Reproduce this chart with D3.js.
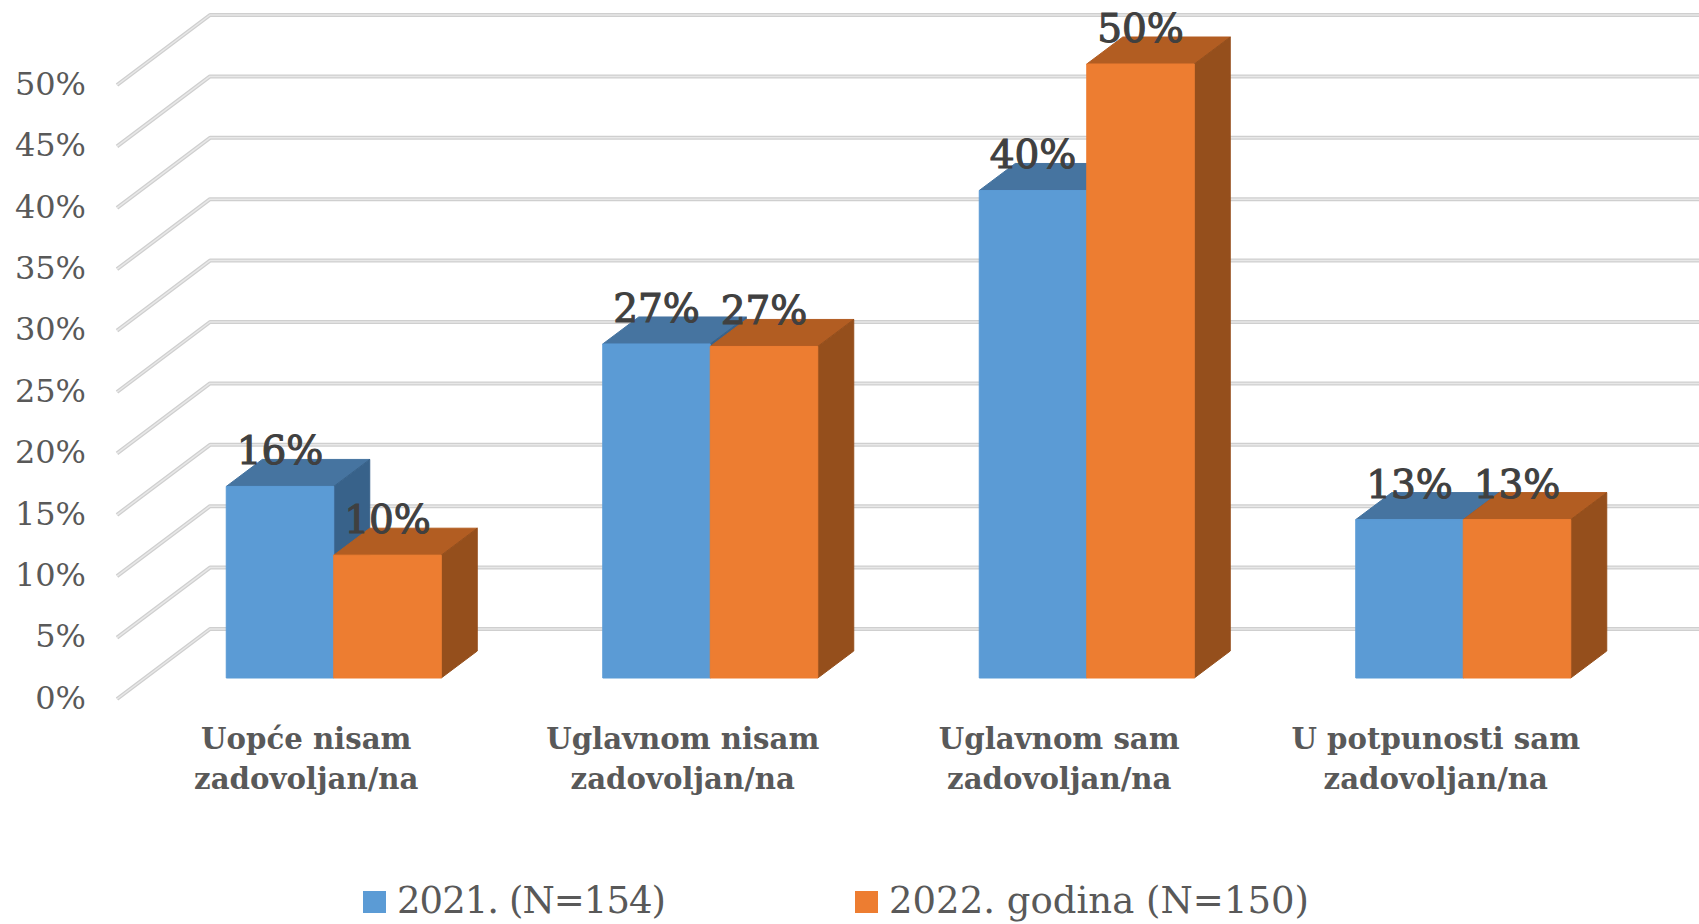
<!DOCTYPE html>
<html>
<head>
<meta charset="utf-8">
<script src="https://cdn.jsdelivr.net/npm/d3@7"></script>
<style>
html, body { margin: 0; padding: 0; background: #fff; overflow: hidden; }
svg { display: block; font-family: "DejaVu Serif", serif; }
</style>
</head>
<body>
<script>
var width = 1699
var height = 924

var categories = ["Uopće nisam zadovoljan/na", "Uglavnom nisam zadovoljan/na", "Uglavnom sam zadovoljan/na", "U potpunosti sam zadovoljan/na"]
var categoryLines = [["Uopće nisam", "zadovoljan/na"], ["Uglavnom nisam", "zadovoljan/na"], ["Uglavnom sam", "zadovoljan/na"], ["U potpunosti sam", "zadovoljan/na"]]
var seriesNames = ["2021. (N=154)", "2022. godina (N=150)"]
var values2021 = [15.6, 27.2, 39.7, 12.9]
var values2022 = [10, 27, 50, 12.9]
var labels2021 = ["16%", "27%", "40%", "13%"]
var labels2022 = ["10%", "27%", "50%", "13%"]
var yTicks = [0, 5, 10, 15, 20, 25, 30, 35, 40, 45, 50]

var series = [
  { name: seriesNames[0], values: values2021, labels: labels2021, front: "#5b9bd5", top: "#4674a0", side: "#38628a" },
  { name: seriesNames[1], values: values2022, labels: labels2022, front: "#ed7d31", top: "#b25d22", side: "#954f1c" }
]

// the fake 3d box: floor runs from the front edge back to the wall
var wallDx = 93, wallDy = -70
var barPlaneDy = -21, barDx = 36, barDy = -27, barShift = 28.5, groupWidth = 215

var x = d3.scaleBand().domain(categories).range([117, 1623])
var xSeries = d3.scaleBand().domain(seriesNames).range([0, groupWidth])
var y = d3.scaleLinear().domain([0, 50]).range([699, 85])

var svg = d3.select("body").append("svg")
  .attr("width", width)
  .attr("height", height)

// gridlines, wall and side wall
var grid = svg.append("g").attr("fill", "none").attr("stroke-linejoin", "round")
function gridPath(v) {
  return "M" + x.range()[0] + "," + y(v) +
    "L" + (x.range()[0] + wallDx) + "," + (y(v) + wallDy) +
    "L" + (x.range()[1] + wallDx) + "," + (y(v) + wallDy)
}
grid.selectAll(".under").data(yTicks).enter().append("path")
  .attr("d", gridPath).attr("stroke", "#cfcfcf").attr("stroke-width", 4)
grid.selectAll(".over").data(yTicks).enter().append("path")
  .attr("d", gridPath).attr("stroke", "#e8e8e8").attr("stroke-width", 1.5)

// y tick labels
var yAxis = svg.append("g")
  .attr("transform", "translate(86,-1)")
  .call(d3.axisLeft(y).tickValues(yTicks).tickSize(0).tickPadding(0).tickFormat(function(d) { return d + "%" }))
yAxis.select(".domain").remove()
yAxis.selectAll("text")
  .attr("fill", "#595959")
  .style("font-family", "'DejaVu Serif', serif")
  .style("font-size", "32px")

// bars
function barLeft(c, s) { return x(c) + x.bandwidth() / 2 + barShift - groupWidth / 2 + xSeries(s.name) }

series.forEach(function(s) {
  var g = svg.append("g").attr("stroke-width", 1).attr("stroke-linejoin", "round")
  categories.forEach(function(c, i) {
    var x0 = barLeft(c, s)
    var x1 = x0 + xSeries.bandwidth()
    var y0 = y(0) + barPlaneDy
    var y1 = y(s.values[i]) + barPlaneDy
    g.append("polygon")
      .attr("points", [[x0, y1], [x1, y1], [x1 + barDx, y1 + barDy], [x0 + barDx, y1 + barDy]].join(" "))
      .attr("fill", s.top).attr("stroke", s.top)
    g.append("polygon")
      .attr("points", [[x1, y0], [x1, y1], [x1 + barDx, y1 + barDy], [x1 + barDx, y0 + barDy]].join(" "))
      .attr("fill", s.side).attr("stroke", s.side)
    g.append("rect")
      .attr("x", x0).attr("y", y1)
      .attr("width", xSeries.bandwidth()).attr("height", y0 - y1)
      .attr("fill", s.front).attr("stroke", s.front)
  })
})

// value labels sit above everything
series.forEach(function(s) {
  svg.append("g").selectAll("text").data(categories).enter().append("text")
    .attr("x", function(c) { return barLeft(c, s) + xSeries.bandwidth() / 2 })
    .attr("y", function(c, i) { return y(s.values[i]) + barPlaneDy - 22 })
    .attr("text-anchor", "middle")
    .attr("fill", "#404040")
    .attr("stroke", "#404040")
    .attr("stroke-width", 1.1)
    .style("font-size", "39px")
    .text(function(c, i) { return s.labels[i] })
})

// category labels
var cat = svg.append("g").selectAll("text").data(categories).enter().append("text")
  .attr("text-anchor", "middle")
  .attr("fill", "#595959")
  .style("font-size", "29.2px")
  .style("font-weight", "bold")
cat.each(function(c, i) {
  d3.select(this).selectAll("tspan").data(categoryLines[i]).enter().append("tspan")
    .attr("x", x(c) + x.bandwidth() / 2 + 1)
    .attr("y", function(d, j) { return 749 + j * 40 })
    .text(function(d) { return d })
})

// legend
var legendX = [363, 855]
var legendTextWidth = [269, 420]
var legend = svg.append("g").selectAll("g").data(series).enter().append("g")
  .attr("transform", function(d, i) { return "translate(" + legendX[i] + ",891)" })
legend.append("rect")
  .attr("width", 23).attr("height", 22)
  .attr("fill", function(d) { return d.front })
legend.append("text")
  .attr("x", 34).attr("y", 22)
  .attr("textLength", function(d, i) { return legendTextWidth[i] })
  .attr("fill", "#595959")
  .style("font-size", "37px")
  .text(function(d) { return d.name })
</script>
</body>
</html>
